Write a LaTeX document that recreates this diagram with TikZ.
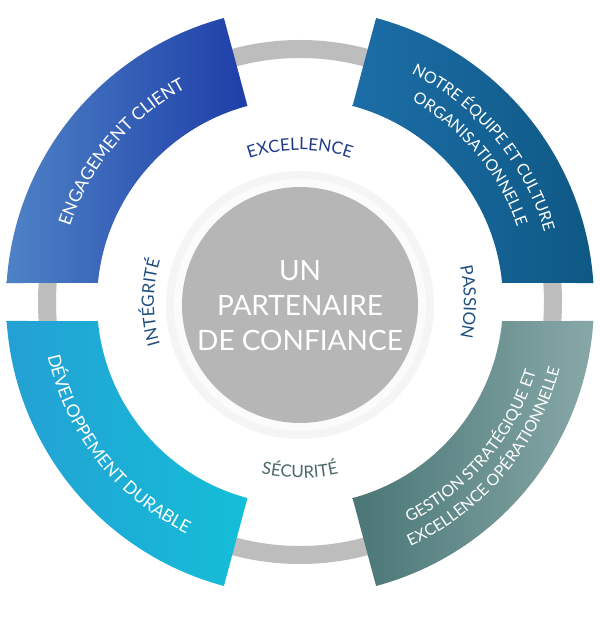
\documentclass[tikz,border=0pt]{standalone}
\usepackage{fontspec}
\setmainfont{Lato}
\usetikzlibrary{decorations.text}
\definecolor{ringgray}{HTML}{BDBDBD}
\definecolor{coregray}{HTML}{B6B6B6}
\definecolor{wordblue}{HTML}{1F3A8A}
\definecolor{wordblue2}{HTML}{1E4F80}
\definecolor{wordteal}{HTML}{4A6A6A}
\tikzset{
  curved/.style={decorate,decoration={text along path,text align=center,text={#1}}},
  seg/.style={shading=axis}
}
\begin{document}
\begin{tikzpicture}
\useasboundingbox (0,0) rectangle (600pt,635pt);
\fill[white] (0,0) rectangle (600pt,635pt);
\begin{scope}[shift={(300pt,333pt)}]
% gray ring
\fill[ringgray,even odd rule] (0,0) circle[radius=262pt] (0,0) circle[radius=244pt];
% white disc and core
\fill[white] (0,0) circle[radius=203pt];
\fill[gray!8] (0,-3pt) circle[radius=134pt];
\fill[gray!3] (0,-3pt) circle[radius=126pt];
\node[circle,fill=coregray,minimum size=236pt,inner sep=0pt] (core) at (0,-3pt) {};
\node[text=white,font=\fontsize{28}{35}\selectfont,align=center] (title) at (0,-4pt) {UN\\PARTENAIRE\\DE CONFIANCE};
% sectors
\shade[seg,left color={rgb,255:red,78;green,130;blue,198},right color={rgb,255:red,30;green,62;blue,168}]
  (176.3:294pt) arc[start angle=176.3,end angle=105,radius=294pt] -- (105:203pt) arc[start angle=105,end angle=174.6,radius=203pt] -- cycle;
\shade[seg,left color={rgb,255:red,28;green,110;blue,168},right color={rgb,255:red,14;green,88;blue,132}]
  (3.7:294pt) arc[start angle=3.7,end angle=75,radius=294pt] -- (75:203pt) arc[start angle=75,end angle=5.4,radius=203pt] -- cycle;
\shade[seg,left color={rgb,255:red,36;green,160;blue,212},right color={rgb,255:red,20;green,190;blue,216}]
  (183.7:294pt) arc[start angle=183.7,end angle=255,radius=294pt] -- (255:203pt) arc[start angle=255,end angle=185.4,radius=203pt] -- cycle;
\shade[seg,left color={rgb,255:red,74;green,118;blue,118},right color={rgb,255:red,136;green,168;blue,168}]
  (-3.7:294pt) arc[start angle=-3.7,end angle=-75,radius=294pt] -- (-75:203pt) arc[start angle=-75,end angle=-5.4,radius=203pt] -- cycle;
% sector labels
\path[curved={|\color{white}\fontsize{17.5}{17.5}\selectfont|ENGAGEMENT CLIENT}] (172:242pt) arc[start angle=172,end angle=108,radius=242pt];
\path[curved={|\color{white}\fontsize{16}{16}\selectfont|NOTRE ÉQUIPE ET CULTURE}] (78:254pt) arc[start angle=78,end angle=2,radius=254pt];
\path[curved={|\color{white}\fontsize{16}{16}\selectfont|ORGANISATIONNELLE}] (78:230pt) arc[start angle=78,end angle=2,radius=230pt];
\path[curved={|\color{white}\fontsize{17.5}{17.5}\selectfont|DÉVELOPPEMENT DURABLE}] (182:258pt) arc[start angle=182,end angle=254,radius=258pt];
\path[curved={|\color{white}\fontsize{16}{16}\selectfont|GESTION STRATÉGIQUE ET}] (-78:246pt) arc[start angle=-78,end angle=-2,radius=246pt];
\path[curved={|\color{white}\fontsize{16}{16}\selectfont|EXCELLENCE OPÉRATIONNELLE}] (-78:268pt) arc[start angle=-78,end angle=-2,radius=268pt];
% values
\path[curved={|\color{wordblue}\fontsize{17}{17}\selectfont|EXCELLENCE}] (125:152pt) arc[start angle=125,end angle=55,radius=152pt];
\path[curved={|\color{wordblue2}\fontsize{17}{17}\selectfont|PASSION}] (35:164pt) arc[start angle=35,end angle=-35,radius=164pt];
\path[curved={|\color{wordteal}\fontsize{17}{17}\selectfont|SÉCURITÉ}] (235:176pt) arc[start angle=235,end angle=305,radius=176pt];
\path[curved={|\color{wordblue2}\fontsize{17}{17}\selectfont|INTÉGRITÉ}] (215:146pt) arc[start angle=215,end angle=145,radius=146pt];
\end{scope}
\end{tikzpicture}
\end{document}
